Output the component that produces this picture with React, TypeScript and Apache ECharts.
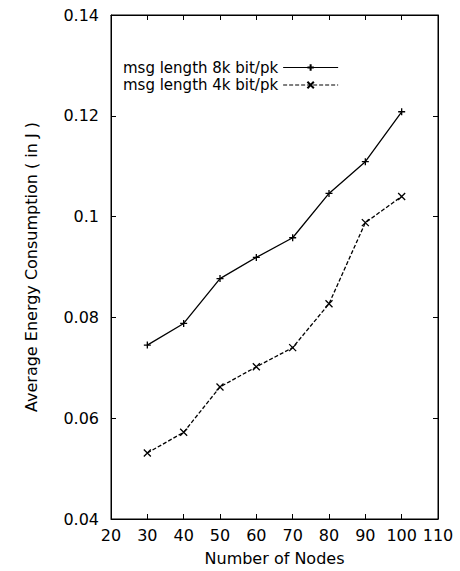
import React, { useEffect, useRef } from "react";
import * as echarts from "echarts";

const nodes = [30, 40, 50, 60, 70, 80, 90, 100];
const energy8k = [0.0745, 0.0788, 0.0877, 0.0919, 0.0958, 0.1046, 0.1109, 0.1208];
const energy4k = [0.0531, 0.0572, 0.0662, 0.0702, 0.074, 0.0827, 0.0988, 0.104];
const seriesNames = ["msg length 8k bit/pk", "msg length 4k bit/pk"];
const xTitle = "Number of Nodes";
const yTitle = "Average Energy Consumption ( in J )";

const FONT = "DejaVu Sans";

export default function App() {
  const ref = useRef<HTMLDivElement>(null);
  useEffect(() => {
    if (!ref.current) return;
    const chart = echarts.init(ref.current, undefined, { renderer: "svg" });
    const plus = "path://M0,5L10,5M5,0L5,10";
    const cross = "path://M0,0L10,10M10,0L0,10";
    const tickCommon = { inside: true, length: 5, lineStyle: { color: "#000", width: 1 } };
    const hiddenLabel = { show: false };
    chart.setOption({
      animation: false,
      backgroundColor: "#fff",
      textStyle: { fontFamily: FONT, color: "#000" },
      grid: {
        left: 111,
        top: 15,
        right: 22,
        bottom: 49,
        show: true,
        borderColor: "#000",
        borderWidth: 1,
      },
      legend: {
        left: 118,
        top: 55,
        orient: "vertical",
        align: "right",
        itemWidth: 55,
        itemHeight: 8,
        itemGap: 2.5,
        lineStyle: { width: 1.2 },
        textStyle: { fontFamily: FONT, fontSize: 15, color: "#000" },
        data: seriesNames,
      },
      xAxis: [
        {
          type: "value",
          min: 20,
          max: 110,
          interval: 10,
          position: "bottom",
          name: xTitle,
          nameLocation: "middle",
          nameGap: 31,
          nameTextStyle: { fontFamily: FONT, fontSize: 16, color: "#000" },
          axisLine: { show: true, lineStyle: { color: "#000", width: 1 } },
          axisTick: tickCommon,
          axisLabel: { fontFamily: FONT, fontSize: 16, color: "#000", margin: 8 },
          splitLine: { show: false },
        },
        {
          type: "value",
          min: 20,
          max: 110,
          interval: 10,
          position: "top",
          axisLine: { show: true, lineStyle: { color: "#000", width: 1 } },
          axisTick: tickCommon,
          axisLabel: hiddenLabel,
          splitLine: { show: false },
        },
      ],
      yAxis: [
        {
          type: "value",
          min: 0.04,
          max: 0.14,
          interval: 0.02,
          position: "left",
          name: yTitle,
          nameLocation: "middle",
          nameGap: 72,
          nameTextStyle: { fontFamily: FONT, fontSize: 16, color: "#000" },
          axisLine: { show: true, lineStyle: { color: "#000", width: 1 } },
          axisTick: tickCommon,
          axisLabel: {
            fontFamily: FONT,
            fontSize: 16,
            color: "#000",
            margin: 12,
            formatter: (v: number) => String(parseFloat(v.toFixed(2))),
          },
          splitLine: { show: false },
        },
        {
          type: "value",
          min: 0.04,
          max: 0.14,
          interval: 0.02,
          position: "right",
          axisLine: { show: true, lineStyle: { color: "#000", width: 1 } },
          axisTick: tickCommon,
          axisLabel: hiddenLabel,
          splitLine: { show: false },
        },
      ],
      series: [
        {
          name: seriesNames[0],
          type: "line",
          xAxisIndex: 0,
          yAxisIndex: 0,
          data: nodes.map((n, i) => [n, energy8k[i]]),
          symbol: plus,
          symbolSize: 7,
          lineStyle: { color: "#000", width: 1.3, type: "solid" },
          itemStyle: { color: "transparent", borderColor: "#000", borderWidth: 1.3 },
        },
        {
          name: seriesNames[1],
          type: "line",
          xAxisIndex: 0,
          yAxisIndex: 0,
          data: nodes.map((n, i) => [n, energy4k[i]]),
          symbol: cross,
          symbolSize: 7,
          lineStyle: { color: "#000", width: 1.3, type: [4, 2] },
          itemStyle: { color: "transparent", borderColor: "#000", borderWidth: 1.3 },
        },
      ],
    });
    return () => chart.dispose();
  }, []);
  return (
    <div
      ref={ref}
      style={{ position: "absolute", left: 0, top: 0, width: 460, height: 571 }}
    />
  );
}
